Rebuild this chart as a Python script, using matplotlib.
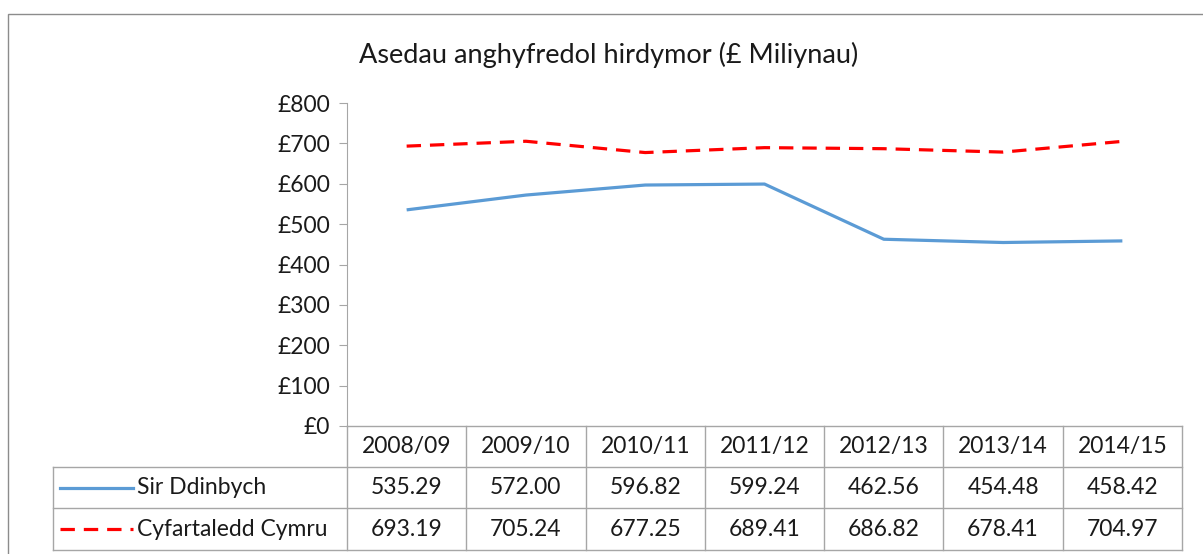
import matplotlib.pyplot as plt
import matplotlib.transforms as mtransforms
from matplotlib.patches import Rectangle
from matplotlib.lines import Line2D

plt.rcParams['font.family'] = ['Lato', 'DejaVu Sans']

# --------------------------------------------------
# Data
# --------------------------------------------------
years = ["2008/09", "2009/10", "2010/11", "2011/12", "2012/13", "2013/14", "2014/15"]
sir_ddinbych = [535.29, 572.00, 596.82, 599.24, 462.56, 454.48, 458.42]
cyfartaledd_cymru = [693.19, 705.24, 677.25, 689.41, 686.82, 678.41, 704.97]
yticks = [0, 100, 200, 300, 400, 500, 600, 700, 800]

title = "Asedau anghyfredol hirdymor (£ Miliynau)"
name_1 = "Sir Ddinbych"
name_2 = "Cyfartaledd Cymru"

BLUE = "#5B9BD5"
RED = "#FF0000"
GRID = "#A6A6A6"
TXT = "#1a1a1a"
FS = 16.5

W, H = 1203, 554
fig = plt.figure(figsize=(W / 100, H / 100), dpi=100)

# plot area in pixels
left_px, right_px = 347, 1182
top_px, bottom_px = 103, 426
ax = fig.add_axes([left_px / W, (H - bottom_px) / H,
                   (right_px - left_px) / W, (bottom_px - top_px) / H])

x = list(range(len(years)))
ax.plot(x, sir_ddinbych, color=BLUE, lw=2.3, solid_capstyle="butt")
ax.plot(x, cyfartaledd_cymru, color=RED, lw=2.3, dashes=(4.5, 2.8))

ax.set_xlim(-0.5, len(years) - 0.5)
ax.set_ylim(0, 800)
ax.set_yticks(yticks)
ax.set_yticklabels([f"£{v}" for v in yticks], fontsize=FS, color=TXT)
ax.set_xticks([])
for s in ["top", "right", "bottom"]:
    ax.spines[s].set_visible(False)
ax.spines["left"].set_color(GRID)
ax.tick_params(axis="y", length=6, color=GRID, pad=6)

fig.text(609 / W, 1 - 55 / H, title, ha="center", va="center", fontsize=19.5, color=TXT)

# --------------------------------------------------
# Data table under the plot
# --------------------------------------------------
tr = mtransforms.blended_transform_factory(ax.transData, ax.transAxes)
ph = bottom_px - top_px
col_w = (right_px - left_px) / len(years)
row_px = [426, 467, 508, 550]
rows = [(bottom_px - p) / ph for p in row_px]
x_lab = -0.5 + (53 - left_px) / col_w
x_end = len(years) - 0.5

lkw = dict(color=GRID, lw=1, transform=tr, clip_on=False)
# horizontal lines
ax.add_line(Line2D([-0.5, x_end], [rows[0]] * 2, **lkw))
for r in rows[1:]:
    ax.add_line(Line2D([x_lab, x_end], [r] * 2, **lkw))
# vertical lines
ax.add_line(Line2D([x_lab, x_lab], [rows[1], rows[3]], **lkw))
for i in range(len(years) + 1):
    ax.add_line(Line2D([i - 0.5, i - 0.5], [rows[0], rows[3]], **lkw))

tkw = dict(transform=tr, ha="center", va="center", fontsize=FS, color=TXT, clip_on=False)
for i, yr in enumerate(years):
    ax.text(i, (rows[0] + rows[1]) / 2, yr, **tkw)
    ax.text(i, (rows[1] + rows[2]) / 2, f"{sir_ddinbych[i]:.2f}", **tkw)
    ax.text(i, (rows[2] + rows[3]) / 2, f"{cyfartaledd_cymru[i]:.2f}", **tkw)

# legend keys inside the table
k0 = x_lab + (60 - 53) / col_w
k1 = x_lab + (133 - 53) / col_w
y1 = (rows[1] + rows[2]) / 2
y2 = (rows[2] + rows[3]) / 2
ax.add_line(Line2D([k0, k1], [y1, y1], color=BLUE, lw=2.3, transform=tr, clip_on=False))
ax.add_line(Line2D([k0, k1], [y2, y2], color=RED, lw=2.3, dashes=(4.5, 2.8),
                   transform=tr, clip_on=False))
ax.text(k1 + 0.03, y1, name_1, transform=tr, ha="left", va="center", fontsize=FS,
        color=TXT, clip_on=False)
ax.text(k1 + 0.03, y2, name_2, transform=tr, ha="left", va="center", fontsize=FS,
        color=TXT, clip_on=False)

# outer chart border (cut off at right and bottom)
fig.add_artist(Rectangle((7.5 / W, -0.1), 1.1, 1 - 13.5 / H + 0.1, transform=fig.transFigure,
                         fill=False, edgecolor="#8c8c8c", lw=1))

fig.savefig("out.png", dpi=100)
